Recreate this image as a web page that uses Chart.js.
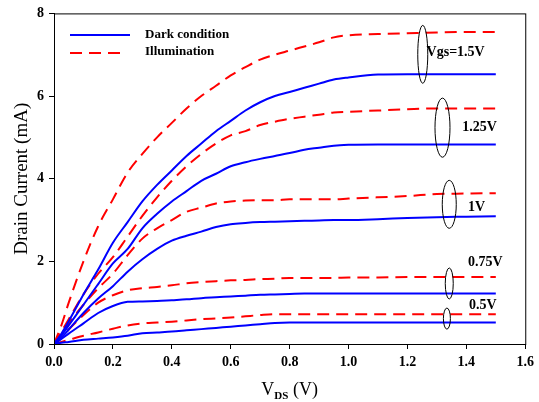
<!DOCTYPE html>
<html>
<head>
<meta charset="utf-8">
<script src="https://cdn.jsdelivr.net/npm/chart.js@4.4.1/dist/chart.umd.min.js"></script>
<style>
  html, body { margin: 0; padding: 0; background: #fff; }
  #wrap { width: 539px; height: 402px; position: relative; }
</style>
</head>
<body>
<div id="wrap"><canvas id="ivChart"></canvas></div>
<script>
// drain voltage (V)
const vds = [0, 0.025, 0.05, 0.1, 0.15, 0.2, 0.25, 0.3, 0.35, 0.4, 0.45, 0.5, 0.55, 0.6, 0.65, 0.7, 0.75, 0.8, 0.85, 0.9, 0.95, 1.0, 1.1, 1.2, 1.3, 1.4, 1.5];

// drain current (mA), dark condition
const dark050 = [0, 0.03, 0.05, 0.1, 0.13, 0.16, 0.2, 0.26, 0.28, 0.3, 0.33, 0.36, 0.39, 0.42, 0.45, 0.48, 0.51, 0.52, 0.52, 0.52, 0.52, 0.52, 0.52, 0.52, 0.52, 0.52, 0.52];
const dark075 = [0, 0.12, 0.25, 0.5, 0.75, 0.92, 1.02, 1.03, 1.04, 1.06, 1.08, 1.11, 1.13, 1.15, 1.17, 1.19, 1.2, 1.21, 1.22, 1.22, 1.22, 1.22, 1.22, 1.22, 1.22, 1.22, 1.22];
const dark100 = [0, 0.15, 0.35, 0.75, 1.1, 1.4, 1.75, 2.05, 2.3, 2.5, 2.62, 2.72, 2.83, 2.9, 2.93, 2.95, 2.96, 2.97, 2.98, 2.99, 3.0, 3.0, 3.02, 3.05, 3.07, 3.08, 3.09];
const dark125 = [0, 0.2, 0.45, 0.95, 1.45, 1.95, 2.3, 2.8, 3.15, 3.45, 3.7, 3.95, 4.12, 4.3, 4.4, 4.48, 4.55, 4.62, 4.7, 4.75, 4.8, 4.82, 4.83, 4.83, 4.83, 4.83, 4.83];
const dark150 = [0, 0.25, 0.55, 1.2, 1.8, 2.45, 2.95, 3.45, 3.85, 4.2, 4.55, 4.85, 5.15, 5.4, 5.65, 5.85, 6.0, 6.1, 6.2, 6.3, 6.4, 6.45, 6.52, 6.53, 6.53, 6.53, 6.53];

// drain current (mA), illumination
const illum050 = [0, 0.05, 0.1, 0.2, 0.28, 0.37, 0.45, 0.5, 0.52, 0.54, 0.57, 0.6, 0.62, 0.64, 0.67, 0.7, 0.72, 0.72, 0.72, 0.72, 0.72, 0.72, 0.72, 0.72, 0.72, 0.72, 0.72];
const illum075 = [0, 0.15, 0.35, 0.7, 1.0, 1.18, 1.3, 1.35, 1.38, 1.42, 1.47, 1.5, 1.52, 1.54, 1.55, 1.57, 1.58, 1.6, 1.6, 1.6, 1.6, 1.61, 1.61, 1.62, 1.62, 1.62, 1.62];
const illum100 = [0, 0.25, 0.5, 0.95, 1.35, 1.7, 2.15, 2.55, 2.8, 3.0, 3.2, 3.3, 3.4, 3.45, 3.47, 3.48, 3.48, 3.5, 3.5, 3.5, 3.5, 3.52, 3.55, 3.58, 3.63, 3.64, 3.65];
const illum125 = [0, 0.3, 0.6, 1.2, 1.7, 2.1, 2.6, 3.1, 3.55, 3.95, 4.3, 4.6, 4.85, 5.05, 5.15, 5.3, 5.38, 5.45, 5.5, 5.55, 5.6, 5.62, 5.65, 5.68, 5.7, 5.7, 5.7];
const illum150 = [0, 0.45, 1.0, 2.0, 2.85, 3.5, 4.15, 4.6, 5.0, 5.35, 5.7, 6.0, 6.25, 6.5, 6.7, 6.88, 7.0, 7.1, 7.2, 7.3, 7.42, 7.47, 7.5, 7.52, 7.54, 7.55, 7.55];

const xTicks = [0, 0.2, 0.4, 0.6, 0.8, 1.0, 1.2, 1.4, 1.6];
const yTicks = [0, 2, 4, 6, 8];

// gate voltage groups: label, ellipse x, ellipse y range, label anchor
const groups = [
  { text: 'Vgs=1.5V', x: 1.252, y0: 6.31, y1: 7.71, rx: 5, lx: 1.265, ly: 7.06 },
  { text: '1.25V', x: 1.319, y0: 4.52, y1: 5.95, rx: 7.5, lx: 1.386, ly: 5.24 },
  { text: '1V', x: 1.342, y0: 2.80, y1: 3.96, rx: 7, lx: 1.406, ly: 3.31 },
  { text: '0.75V', x: 1.342, y0: 1.09, y1: 1.84, rx: 4, lx: 1.406, ly: 1.98 },
  { text: '0.5V', x: 1.334, y0: 0.36, y1: 0.87, rx: 3.5, lx: 1.409, ly: 0.94 }
];

const BLUE = '#0000ff';
const RED = '#ff0000';
const SERIF = '"Liberation Serif", "Times New Roman", serif';

function pts(ys) {
  return vds.map((v, i) => ({ x: v, y: ys[i] }));
}

const darkSets = [dark150, dark125, dark100, dark075, dark050].map(ys => ({
  label: 'Dark condition',
  data: pts(ys),
  borderColor: BLUE,
  borderWidth: 2,
  pointRadius: 0,
  cubicInterpolationMode: 'monotone',
  fill: false
}));
const illumSets = [illum150, illum125, illum100, illum075, illum050].map(ys => ({
  label: 'Illumination',
  data: pts(ys),
  borderColor: RED,
  borderWidth: 2,
  borderDash: [12, 7],
  pointRadius: 0,
  cubicInterpolationMode: 'monotone',
  fill: false
}));

const extras = {
  id: 'extras',
  afterDraw(chart) {
    const c = chart.ctx;
    const a = chart.chartArea;
    const xs = chart.scales.x, ys = chart.scales.y;
    c.save();
    // frame
    c.strokeStyle = '#000';
    c.lineWidth = 1;
    c.strokeRect(a.left + 0.5, a.top + 0.5, a.right - a.left, a.bottom - a.top);

    // legend
    c.lineWidth = 2;
    c.strokeStyle = BLUE;
    c.setLineDash([]);
    c.beginPath(); c.moveTo(70, 35); c.lineTo(130, 35); c.stroke();
    c.strokeStyle = RED;
    c.setLineDash([12, 7]);
    c.beginPath(); c.moveTo(70, 53); c.lineTo(126, 53); c.stroke();
    c.setLineDash([]);
    c.fillStyle = '#000';
    c.font = 'bold 13px ' + SERIF;
    c.textAlign = 'left';
    c.textBaseline = 'middle';
    c.fillText(darkSets[0].label, 145, 35);
    c.fillText(illumSets[0].label, 145, 52);

    // gate voltage ellipses and labels
    c.lineWidth = 1;
    c.strokeStyle = '#000';
    groups.forEach(g => {
      const cx = xs.getPixelForValue(g.x);
      const yA = ys.getPixelForValue(g.y0), yB = ys.getPixelForValue(g.y1);
      c.beginPath();
      c.ellipse(cx, (yA + yB) / 2, g.rx, Math.abs(yA - yB) / 2, 0, 0, Math.PI * 2);
      c.stroke();
      c.font = 'bold 14px ' + SERIF;
      c.fillText(g.text, xs.getPixelForValue(g.lx), ys.getPixelForValue(g.ly));
    });

    // x axis title with subscript
    c.font = '18px ' + SERIF;
    c.textBaseline = 'alphabetic';
    const mid = (a.left + a.right) / 2 + 0;
    const w1 = c.measureText('V').width;
    c.font = 'bold 11px ' + SERIF;
    const w2 = c.measureText('DS').width;
    c.font = '18px ' + SERIF;
    const w3 = c.measureText(' (V)').width;
    let x0 = mid - (w1 + w2 + w3) / 2;
    c.fillText('V', x0, 395);
    c.font = 'bold 11px ' + SERIF;
    c.fillText('DS', x0 + w1, 399);
    c.font = '18px ' + SERIF;
    c.fillText(' (V)', x0 + w1 + w2, 395);

    // y axis title
    c.translate(22, (a.top + a.bottom) / 2);
    c.rotate(-Math.PI / 2);
    c.textAlign = 'center';
    c.textBaseline = 'middle';
    c.font = '19px ' + SERIF;
    c.fillText('Drain Current (mA)', 0, 0);
    c.restore();
  }
};

new Chart(document.getElementById('ivChart'), {
  type: 'line',
  data: { datasets: [...darkSets, ...illumSets] },
  options: {
    responsive: true,
    maintainAspectRatio: false,
    animation: false,
    events: [],
    layout: { padding: { top: 13, right: 7, left: 0, bottom: 0 } },
    plugins: {
      legend: { display: false },
      tooltip: { enabled: false }
    },
    scales: {
      x: {
        type: 'linear',
        min: 0,
        max: 1.6,
        afterBuildTicks: s => { s.ticks = xTicks.map(v => ({ value: v })); },
        afterFit: s => { s.height = 58; },
        grid: { drawOnChartArea: false, drawTicks: true, tickLength: 5, color: '#000' },
        border: { display: true, color: '#000', width: 1 },
        ticks: {
          color: '#000',
          padding: 5,
          maxRotation: 0,
          font: { family: SERIF, size: 14, weight: 'bold' },
          callback: v => Number(v).toFixed(1)
        }
      },
      y: {
        min: 0,
        max: 8,
        afterBuildTicks: s => { s.ticks = yTicks.map(v => ({ value: v })); },
        afterFit: s => { s.width = 54; },
        grid: { drawOnChartArea: false, drawTicks: true, tickLength: 5, color: '#000' },
        border: { display: true, color: '#000', width: 1 },
        ticks: {
          color: '#000',
          padding: 5,
          font: { family: SERIF, size: 14, weight: 'bold' },
          callback: v => String(v)
        }
      }
    }
  },
  plugins: [extras]
});
</script>
</body>
</html>
